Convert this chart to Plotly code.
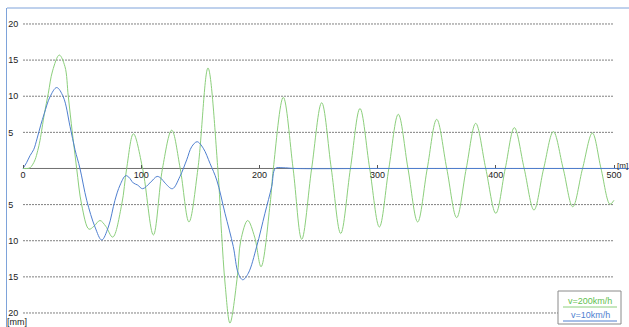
import plotly.graph_objects as go

# Track deflection along the line: distance [m] vs deflection [mm]
dist_200 = [0, 4, 6, 8, 10.2, 12.5, 14.4, 18, 21.4, 25, 30.7, 35.5, 38.3, 41.7, 45.4,
            49.6, 55.8, 60, 65.1, 70, 75.9, 83.5, 87.7, 93.4, 101.2, 110.3, 118, 125.8,
            133, 140.4, 148, 156.5, 164.8, 168, 171, 175.1, 181.3, 184.2, 190.1, 196,
            201.4, 209, 211.8, 220.2, 228.5, 235.8, 244.2, 252.7, 260.8, 268.8, 277,
            285.1, 293.3, 301.5, 309.5, 317.5, 325.7, 333.9, 342, 350, 358.5, 366.9,
            375, 383, 391.5, 400, 408, 415.7, 424, 432.3, 440.5, 448.7, 457, 465.1,
            473.4, 481.7, 489, 496.6, 500]
defl_200 = [0, 0, 0.1, 0.5, 1.2, 2.5, 3.9, 7.5, 10.4, 13.5, 15.7, 14.1, 10, 5, 0,
            -5, -8.4, -8.0, -7.2, -8.0, -9.5, -5, 0, 4.8, 0, -9.2, 0, 5.3,
            0, -7.4, 0, 13.9, 0, -9, -16, -21.4, -15, -10, -7.2, -9.5,
            -13.6, -5, 0, 9.85, 0, -9.8, 0, 9.1, 0, -9.0, 0,
            8.3, 0, -8.1, 0, 7.5, 0, -7.4, 0, 6.8, 0, -6.8,
            0, 6.25, 0, -6.2, 0, 5.65, 0, -5.75, 0, 5.1, 0, -5.3,
            0, 4.9, 0, -4.95, -4.4]

dist_10 = [0, 3, 6, 9, 12, 15, 18, 22.8, 28.5, 34.1, 39.8, 44, 48.2, 53.9, 60.9,
           66.6, 72.2, 77.8, 82.1, 86.8, 89.5, 93.3, 97, 101.2, 107.4, 113.5, 117,
           120.1, 126.4, 132.8, 138.5, 142.7, 147.3, 152.5, 158.2, 163.9, 170.9,
           177.9, 182.1, 185.9, 190.6, 197.7, 204.7, 210.4, 213.5, 220, 230, 300,
           400, 500, 515]
defl_10 = [0, 0.8, 1.8, 2.6, 4.2, 6.0, 7.6, 9.9, 11.2, 9.9, 5.8, 2.6, 0, -4.4, -8.1,
           -9.9, -8.1, -4.4, -2.3, -1.0, -1.2, -2.0, -2.3, -2.8, -2.0, -1.1, -1.4,
           -2.0, -2.8, -1.1, 1.2, 3.0, 3.7, 2.8, 0.7, -1.6, -6.2,
           -10.8, -14.5, -15.4, -14.5, -10.8, -6.2, -2.5, 0, 0.1, 0, 0,
           0, 0, 0]

x_ticks = [0, 100, 200, 300, 400, 500]
y_grid = [20, 15, 10, 5, -5, -10, -15, -20]
y_tick_text = ["20", "15", "10", "5", "5", "10", "15", "20"]

series_names = ["v=200km/h", "v=10km/h"]

GREEN = "#8ccf7c"
GREEN_TXT = "#5fbf4f"
BLUE = "#4f7fd0"
FRAME = "#7ea3da"
GRID = "#808080"
FONT = "Liberation Sans"

W, H = 629, 327
ML, MT = 7, 8
X_RANGE = [-13.54, 512.69]
Y_RANGE = [-21.94, 22.21]


def px_x(px):
    return (px - ML) / (W - ML)


def px_y(py):
    return (H - py) / (H - MT)


fig = go.Figure()
fig.add_trace(go.Scatter(x=dist_200, y=defl_200, mode="lines", name=series_names[0],
                         line=dict(color=GREEN, width=1, shape="spline", smoothing=1),
                         showlegend=False, hoverinfo="skip"))
fig.add_trace(go.Scatter(x=dist_10, y=defl_10, mode="lines", name=series_names[1],
                         line=dict(color=BLUE, width=1, shape="spline", smoothing=1),
                         showlegend=False, hoverinfo="skip"))

shapes = []
# dotted horizontal grid between 0 and 500 m
for v in y_grid:
    shapes.append(dict(type="line", xref="x", yref="y", x0=0, x1=500, y0=v, y1=v,
                       line=dict(color=GRID, width=1, dash="2px,1px"), layer="below"))
# zero axis line
shapes.append(dict(type="line", xref="x", yref="y", x0=0, x1=512.69, y0=0, y1=0,
                   line=dict(color="#707070", width=1), layer="below"))
# top frame line
shapes.append(dict(type="line", xref="paper", yref="paper", x0=0, x1=1, y0=1, y1=1,
                   line=dict(color=FRAME, width=1)))

# legend box
shapes.append(dict(type="rect", xref="paper", yref="paper",
                   x0=px_x(558), x1=px_x(621), y0=px_y(324), y1=px_y(291),
                   line=dict(color="#8a8a8a", width=1), fillcolor="white"))
shapes.append(dict(type="line", xref="paper", yref="paper",
                   x0=px_x(563), x1=px_x(617), y0=px_y(307), y1=px_y(307),
                   line=dict(color=GREEN, width=1)))
shapes.append(dict(type="line", xref="paper", yref="paper",
                   x0=px_x(563), x1=px_x(617), y0=px_y(321), y1=px_y(321),
                   line=dict(color=BLUE, width=1)))

annotations = [
    dict(text="[m]", xref="paper", yref="paper", x=1, y=px_y(165),
         xanchor="right", yanchor="middle", showarrow=False, borderpad=0,
         font=dict(family=FONT, size=8, color="#222")),
    dict(text="[mm]", xref="paper", yref="paper", x=px_x(5), y=px_y(322),
         xanchor="left", yanchor="middle", showarrow=False,
         font=dict(family=FONT, size=9, color="#222")),
    dict(text=series_names[0], xref="paper", yref="paper", x=px_x(590), y=px_y(301),
         xanchor="center", yanchor="middle", showarrow=False,
         font=dict(family=FONT, size=9, color=GREEN_TXT)),
    dict(text=series_names[1], xref="paper", yref="paper", x=px_x(590), y=px_y(315),
         xanchor="center", yanchor="middle", showarrow=False,
         font=dict(family=FONT, size=9, color=BLUE)),
]

zero_pos = (0 - Y_RANGE[0]) / (Y_RANGE[1] - Y_RANGE[0])

fig.update_layout(
    width=W, height=H,
    margin=dict(l=ML, r=0, t=MT, b=0, pad=0),
    paper_bgcolor="white", plot_bgcolor="white",
    shapes=shapes, annotations=annotations,
    xaxis=dict(range=X_RANGE, showgrid=False, zeroline=False, showline=False,
               tickmode="array", tickvals=x_ticks, ticks="inside", ticklen=3,
               tickcolor="#555", anchor="free", position=zero_pos,
               tickfont=dict(family=FONT, size=9, color="#222")),
    yaxis=dict(range=Y_RANGE, showgrid=False, zeroline=False, showline=True,
               linecolor=FRAME, linewidth=1, tickmode="array", tickvals=y_grid,
               ticktext=y_tick_text, ticks="", ticklabelposition="inside",
               tickfont=dict(family=FONT, size=9, color="#222")),
    font=dict(family=FONT, size=9),
)

fig.write_html("out.html")
